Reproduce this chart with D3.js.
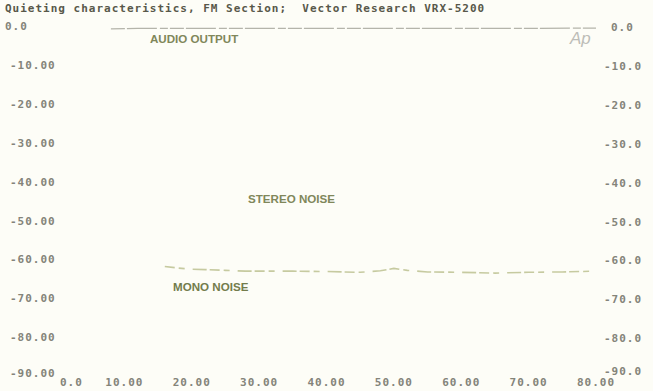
<!DOCTYPE html>
<html>
<head>
<meta charset="utf-8">
<script src="https://cdn.jsdelivr.net/npm/d3@7"></script>
<style>
  body { margin: 0; background: #fdfdf7; }
  svg { display: block; }
</style>
</head>
<body>
<div id="chart"></div>
<script>
// RF input level (dBf) ticks and dB ticks
const xTicks = [0, 10, 20, 30, 40, 50, 60, 70, 80];
const yTicks = [0, -10, -20, -30, -40, -50, -60, -70, -80, -90];

// audio output (dB re. full output) vs RF input
const audioX = [8, 12, 20, 30, 40, 50, 60, 70, 80];
const audioY = [-0.6, -0.5, -0.5, -0.5, -0.5, -0.5, -0.5, -0.5, -0.4];

// mono noise vs RF input
const monoX = [16, 18, 20, 22, 25, 28, 30, 35, 40, 45, 48, 50, 52, 55, 60, 65, 70, 75, 80];
const monoY = [-61.8, -62.2, -62.5, -62.6, -62.8, -63.0, -63.0, -63.0, -63.1, -63.3, -62.9, -62.3, -62.8, -63.2, -63.3, -63.5, -63.3, -63.2, -63.0];

const W = 653, H = 391;
let svg = d3.select("#chart").append("svg")
  .attr("width", W)
  .attr("height", H);

let x = d3.scaleLinear().domain([0, 80]).range([57, 596]);
let y = d3.scaleLinear().domain([0, -90]).range([26.5, 376]);

const mono = "'DejaVu Sans Mono', monospace";

// title
svg.append("text")
  .attr("x", 5)
  .attr("y", 12)
  .attr("font-family", mono)
  .attr("font-weight", "bold")
  .attr("font-size", 11)
  .attr("letter-spacing", 1.0)
  .attr("fill", "#58584a")
  .attr("xml:space", "preserve")
  .text("Quieting characteristics, FM Section;  Vector Research VRX-5200");

// left y labels
svg.selectAll(".yl")
  .data(yTicks)
  .enter().append("text")
  .attr("class", "yl")
  .attr("x", d => d == 0 ? 5 : 10)
  .attr("y", d => d == -90 ? y(d) - 3 : y(d))
  .attr("dy", "0.35em")
  .attr("font-family", mono)
  .attr("font-weight", "bold")
  .attr("font-size", 11)
  .attr("letter-spacing", 1.0)
  .attr("fill", "#84847a")
  .text(d => d == 0 ? "0.0" : d.toFixed(2));

// right y labels
svg.selectAll(".yr")
  .data(yTicks)
  .enter().append("text")
  .attr("class", "yr")
  .attr("x", d => d == 0 ? 611 : 604)
  .attr("y", d => d == -90 ? y(d) - 5 : y(d) + 1)
  .attr("dy", "0.35em")
  .attr("font-family", mono)
  .attr("font-weight", "bold")
  .attr("font-size", 11)
  .attr("letter-spacing", 1.0)
  .attr("fill", "#84847a")
  .text(d => d.toFixed(1));

// x labels
svg.selectAll(".xl")
  .data(xTicks)
  .enter().append("text")
  .attr("class", "xl")
  .attr("x", d => d == 0 ? 60 : x(d))
  .attr("y", 382)
  .attr("dy", "0.35em")
  .attr("text-anchor", d => d == 0 ? "start" : "middle")
  .attr("font-family", mono)
  .attr("font-weight", "bold")
  .attr("font-size", 11)
  .attr("letter-spacing", 1.0)
  .attr("fill", "#84847a")
  .text(d => d == 0 ? "0.0" : d.toFixed(2));

let line = d3.line()
  .x(d => x(d[0]))
  .y(d => y(d[1]));

// audio output
svg.append("path")
  .datum(d3.zip(audioX, audioY))
  .attr("fill", "none")
  .attr("stroke", "#b4b4aa")
  .attr("stroke-width", 1.3)
  .attr("stroke-dasharray", "14,2,30,3,8,2")
  .attr("d", line);

// mono noise
svg.append("path")
  .datum(d3.zip(monoX, monoY))
  .attr("fill", "none")
  .attr("stroke", "#c6caa0")
  .attr("stroke-width", 1.6)
  .attr("stroke-dasharray", "10,4,6,8,14,3")
  .attr("d", line);

// curve labels
const labels = [
  { text: "AUDIO OUTPUT", x: 150, y: 39, color: "#80875a" },
  { text: "STEREO NOISE", x: 248, y: 199, color: "#80875a" },
  { text: "MONO NOISE", x: 173, y: 287, color: "#737c4c" }
];
svg.selectAll(".cl")
  .data(labels)
  .enter().append("text")
  .attr("class", "cl")
  .attr("x", d => d.x)
  .attr("y", d => d.y)
  .attr("dy", "0.35em")
  .attr("font-family", "'Liberation Sans', Arial, sans-serif")
  .attr("font-weight", "bold")
  .attr("font-size", 11.6)
  .attr("fill", d => d.color)
  .text(d => d.text);

// Ap logo
svg.append("text")
  .attr("x", 570)
  .attr("y", 44)
  .attr("font-family", "'Liberation Sans', Arial, sans-serif")
  .attr("font-style", "italic")
  .attr("font-size", 17)
  .attr("fill", "#bdbdb8")
  .text("Ap");
</script>
</body>
</html>
